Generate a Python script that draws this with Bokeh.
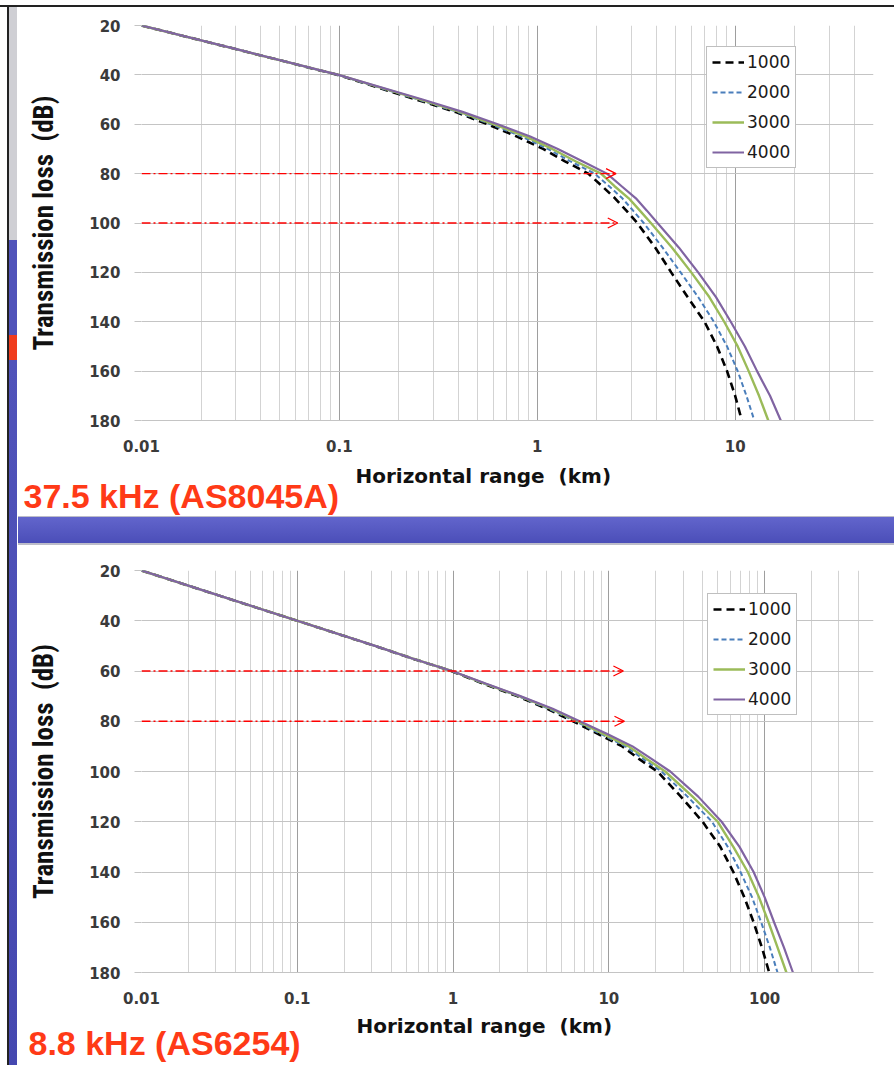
import math
from bokeh.plotting import figure
from bokeh.models import (FixedTicker, CustomJSTickFormatter, Arrow, OpenHead,
                          Range1d, Div, Title)
from bokeh.layouts import column, row
from bokeh.embed import file_html
from bokeh.resources import INLINE

# ---------------- data ----------------
SERIES = ["1000", "2000", "3000", "4000"]
TL_LEVELS = [20, 30, 40, 50, 55, 60, 65, 70, 75, 80, 85, 90, 95, 100,
             110, 120, 130, 140, 150, 160, 170, 180]

# 37.5 kHz (AS8045A): horizontal range (km) at each transmission-loss level
TOP_RANGE_1000 = [0.01, 0.0315, 0.098, 0.245, 0.385, 0.56, 0.79, 1.07, 1.38, 1.81, 2.12, 2.47, 2.82, 3.2,
                  3.95, 4.75, 5.75, 7.0, 8.1, 9.1, 10.0, 10.8]
TOP_RANGE_2000 = [0.01, 0.0315, 0.098, 0.251, 0.395, 0.583, 0.835, 1.13, 1.47, 1.95, 2.3, 2.69, 3.05, 3.45,
                  4.3, 5.3, 6.5, 7.8, 9.1, 10.3, 11.4, 12.5]
TOP_RANGE_3000 = [0.01, 0.0315, 0.099, 0.257, 0.405, 0.603, 0.875, 1.19, 1.56, 2.1, 2.45, 2.9, 3.3, 3.75,
                  4.8, 6.0, 7.4, 8.8, 10.3, 11.7, 13.2, 14.7]
TOP_RANGE_4000 = [0.01, 0.0316, 0.099, 0.263, 0.419, 0.631, 0.921, 1.27, 1.69, 2.25, 2.66, 3.15, 3.58, 4.05,
                  5.2, 6.5, 8.0, 9.5, 11.2, 12.9, 15.0, 17.0]

# 8.8 kHz (AS6254)
BOT_RANGE_1000 = [0.01, 0.0316, 0.1, 0.315, 0.545, 0.975, 1.56, 2.58, 4.0, 5.9, 8.5, 12.2, 15.6, 20.5,
                  29.0, 40.0, 52.0, 63.0, 74.0, 85.0, 96.0, 107.0]
BOT_RANGE_2000 = [0.01, 0.0316, 0.1, 0.315, 0.546, 0.978, 1.575, 2.62, 4.1, 6.1, 8.85, 12.8, 16.6, 21.8,
                  32.0, 46.0, 58.0, 70.0, 83.0, 95.0, 108.0, 121.0]
BOT_RANGE_3000 = [0.01, 0.0316, 0.1, 0.316, 0.547, 0.98, 1.6, 2.66, 4.23, 6.3, 9.2, 13.4, 17.5, 23.0,
                  34.5, 50.0, 63.0, 78.0, 92.0, 106.0, 121.0, 138.0]
BOT_RANGE_4000 = [0.01, 0.0316, 0.1, 0.316, 0.548, 0.983, 1.62, 2.7, 4.36, 6.5, 9.7, 14.2, 18.8, 24.8,
                  37.5, 53.0, 69.0, 85.0, 100.0, 115.0, 133.0, 152.0]

# reference arrows (transmission loss level, end range in km)
TOP_ARROW_TL = [80, 100]
TOP_ARROW_END = [2.5, 2.55]
BOT_ARROW_TL = [60, 80]
BOT_ARROW_END = [12.4, 12.6]

Y_TICKS = [20, 40, 60, 80, 100, 120, 140, 160, 180]
TOP_X_TICKS = [0.01, 0.1, 1, 10]
BOT_X_TICKS = [0.01, 0.1, 1, 10, 100]
TOP_X_MAX = 50
BOT_X_MAX = 500

TOP_TITLE = "37.5 kHz (AS8045A)"
BOT_TITLE = "8.8 kHz (AS6254)"
X_LABEL = "Horizontal range \u00a0(km)"
Y_LABEL = "Transmission loss \u00a0(dB)"

# ---------------- styles ----------------
COLORS = ["#000000", "#4A7EBB", "#9BBB59", "#8064A2"]
DASHES = ["8 5", "5 3", "solid", "solid"]
WIDTHS = [2.6, 2.0, 2.4, 2.2]
TICK_FONT = "DejaVu Sans"
TITLE_FONT = "Liberation Sans"
NARROW = "'Roboto Condensed', 'Liberation Sans Narrow', sans-serif"


def minor_list(x_max):
    out = []
    for e in range(-2, 3):
        for m in range(2, 10):
            v = m * 10 ** e
            if v <= x_max * 1.0001:
                out.append(v)
    return out


def make_chart(width, height, fl, fr, ft, fb, x_max, x_ticks, range_lists,
               arrow_tl, arrow_end, title, xlabel_offset, xlabel_standoff,
               title_offset, title_standoff, legend_loc):
    p = figure(width=width, height=height, x_axis_type="log",
               x_range=Range1d(0.01, x_max), y_range=Range1d(180, 20),
               output_backend="svg", toolbar_location=None,
               min_border_left=fl, min_border_right=fr,
               min_border_top=ft, min_border_bottom=fb)
    p.outline_line_color = None
    p.background_fill_color = "white"
    p.border_fill_color = "white"

    xt = FixedTicker(ticks=x_ticks, minor_ticks=minor_list(x_max))
    p.xaxis.ticker = xt
    p.xgrid.ticker = xt
    p.xaxis.formatter = CustomJSTickFormatter(code="return tick.toString();")
    yt = FixedTicker(ticks=Y_TICKS)
    p.yaxis.ticker = yt
    p.ygrid.ticker = yt

    p.xgrid.grid_line_color = "#9E9E9E"
    p.xgrid.minor_grid_line_color = "#D3D3D3"
    p.ygrid.grid_line_color = "#C4C4C4"

    for ax in (p.xaxis, p.yaxis):
        ax.major_label_text_font = TICK_FONT
        ax.major_label_text_font_style = "bold"
        ax.major_label_text_font_size = "15px"
        ax.major_label_text_color = "#3a3a3a"
        ax.minor_tick_line_color = None
    p.xaxis.axis_line_color = "#C4C4C4"
    p.xaxis.major_tick_line_color = None
    p.xaxis.major_tick_out = 0
    p.xaxis.major_label_standoff = 15
    p.yaxis.axis_line_color = None
    p.yaxis.major_tick_line_color = "#C4C4C4"
    p.yaxis.major_tick_out = 7
    p.yaxis.major_tick_in = 0
    p.yaxis.major_label_standoff = 14

    p.yaxis.axis_label = Y_LABEL
    p.yaxis.axis_label_text_font = NARROW
    p.yaxis.axis_label_text_font_style = "bold"
    p.yaxis.axis_label_text_font_size = "27px"
    p.yaxis.axis_label_text_color = "#111111"
    p.yaxis.axis_label_standoff = 26

    for name, rr, c, d, w in zip(SERIES, range_lists, COLORS, DASHES, WIDTHS):
        p.line(rr, TL_LEVELS, line_color=c, line_dash=d, line_width=w, legend_label=name)

    for tl, xe in zip(arrow_tl, arrow_end):
        p.add_layout(Arrow(end=OpenHead(size=10, line_color="#FF0000", line_width=1.3),
                           x_start=x_ticks[0], y_start=tl, x_end=xe, y_end=tl,
                           line_color="#FF0000", line_width=1.3, line_dash="9 3 2 3"))

    lg = p.legend[0]
    lg.location = legend_loc
    lg.padding = 5
    lg.spacing = 10
    lg.margin = 0
    lg.glyph_width = 32
    lg.glyph_height = 20
    lg.label_height = 20
    lg.label_standoff = 3
    lg.label_text_font = "DejaVu Sans"
    lg.label_text_font_size = "17px"
    lg.label_text_color = "#1a1a1a"
    lg.border_line_color = "#7f7f7f"
    lg.border_line_width = 1
    lg.background_fill_color = "white"
    lg.background_fill_alpha = 1.0

    p.add_layout(Title(text=X_LABEL, align="left", offset=xlabel_offset,
                       standoff=xlabel_standoff,
                       text_font=TICK_FONT, text_font_style="bold",
                       text_font_size="20px", text_color="#111111"), "below")
    p.add_layout(Title(text=title, align="left", offset=title_offset,
                       standoff=title_standoff, vertical_align="top",
                       text_font=TITLE_FONT, text_font_style="bold",
                       text_font_size="34px", text_color="#FF3A17"), "below")
    return p


p1 = make_chart(876, 509, 123, 21, 18, 96, TOP_X_MAX, TOP_X_TICKS,
                [TOP_RANGE_1000, TOP_RANGE_2000, TOP_RANGE_3000, TOP_RANGE_4000],
                TOP_ARROW_TL, TOP_ARROW_END, TOP_TITLE,
                214, 14, -118, -35, (565, 252))
p2 = make_chart(876, 520, 122, 21, 25, 93, BOT_X_MAX, BOT_X_TICKS,
                [BOT_RANGE_1000, BOT_RANGE_2000, BOT_RANGE_3000, BOT_RANGE_4000],
                BOT_ARROW_TL, BOT_ARROW_END, BOT_TITLE,
                215, 10, -113, -37, (566, 257))

top_line = Div(text="", width=894, height=7, margin=0, styles={
    "background": "linear-gradient(to bottom, #ffffff 0px, #ffffff 5px, #222222 5px, #222222 7px)"})
strip = Div(text="", width=18, height=1058, margin=0, styles={
    "background": ("linear-gradient(to right, #ffffff 0px, #ffffff 7px, #222222 7px, #222222 9px, "
                   "transparent 9px, transparent 17px, #ffffff 17px), "
                   "linear-gradient(to bottom, #cfcfd4 0px, #cfcfd4 233px, #5053ba 233px, "
                   "#5053ba 328px, #f03c1e 328px, #f03c1e 353px, #5053ba 353px, #4548b0 100%)")})
band = Div(text="", width=876, height=29, margin=0, styles={
    "background": ("linear-gradient(to bottom, #bdbdc9 0px, #bdbdc9 1px, #6265cc 1px, "
                   "#4b4eb8 27px, #bdbdc9 27px, #bdbdc9 29px)")})

layout = column(top_line, row(strip, column(p1, band, p2, spacing=0), spacing=0), spacing=0)

open("out.html", "w").write(file_html(layout, INLINE))
